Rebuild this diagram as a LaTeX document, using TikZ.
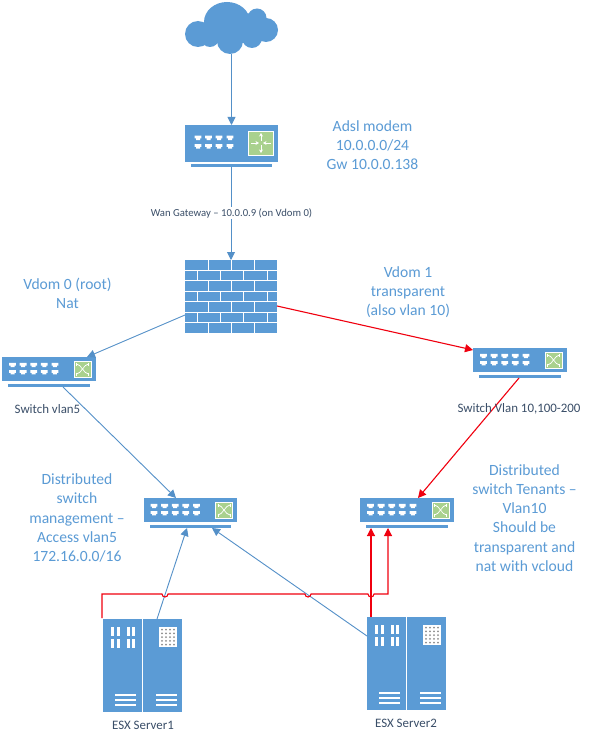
\documentclass[tikz,border=0pt]{standalone}
\usepackage{fontspec}
\setmainfont{Carlito}
\usetikzlibrary{arrows.meta}
\definecolor{bl}{HTML}{5B9BD5}
\definecolor{blline}{HTML}{5490C8}
\definecolor{captc}{HTML}{3A4E68}
\definecolor{rd}{HTML}{F0000F}
\definecolor{gr}{HTML}{A9D18E}
\tikzset{
  devbody/.style={fill=bl,draw=none,inner sep=0pt,outer sep=0pt},
  link/.style={draw=blline,line width=0.9pt,-{Triangle[length=8pt,width=8pt]}},
  redlink/.style={draw=rd,line width=1.1pt,-{Triangle[length=8pt,width=8pt]}},
  note/.style={text=bl,align=center,font=\fontsize{15.6}{19.2}\selectfont,inner sep=0pt},
  capt/.style={text=captc,font=\fontsize{12.9}{13}\selectfont,inner sep=0pt},
  whiteline/.style={draw=white,line width=1pt},
  icon/.style={white,line width=0.9pt,-{Stealth[length=3.5pt,width=4pt]}}
}
\newcommand\portpair[2]{%
  \fill[white] (#1-3.4,#2-2.4) -- (#1+3.4,#2-2.4) -- (#1+3.4,#2+0.4) -- (#1+2,#2+0.4) -- (#1+2,#2+2) -- (#1-2,#2+2) -- (#1-2,#2+0.4) -- (#1-3.4,#2+0.4) -- cycle;}
\newcommand\switchdev[3]{%
  \node[devbody,minimum width=93.5pt,minimum height=24pt,anchor=north west] (#1) at (#2,#3) {};
  \fill[bl] (#2+6,#3+27) rectangle (#2+87.5,#3+30);
  \foreach \cx in {0,1,2,3,4} {\pgfmathsetmacro\px{#2+10.5+10.6*\cx}\portpair{\px}{#3+8.2}\portpair{\px}{#3+15.4}}
  \fill[gr,draw=white,line width=0.8pt] (#2+72,#3+4) rectangle (#2+89,#3+20);
  \draw[white,line width=0.7pt] (#2+74.5,#3+7) .. controls (#2+79,#3+7) and (#2+82,#3+17) .. (#2+86.5,#3+17);
  \draw[white,line width=0.7pt] (#2+74.5,#3+17) .. controls (#2+79,#3+17) and (#2+82,#3+7) .. (#2+86.5,#3+7);
  \draw[white,line width=0.7pt] (#2+74.5,#3+5.5) -- (#2+74.5,#3+8.5) (#2+74.5,#3+15.5) -- (#2+74.5,#3+18.5) (#2+86.5,#3+5.5) -- (#2+86.5,#3+8.5) (#2+86.5,#3+15.5) -- (#2+86.5,#3+18.5);
}
\newcommand\serverdev[3]{%
  \node[devbody,minimum width=79pt,minimum height=93pt,anchor=north west] (#1) at (#2,#3) {};
  \draw[whiteline] (#2+39.5,#3) -- (#2+39.5,#3+93);
  \foreach \bx in {8,13.5,23.5,29} {
    \fill[white] (#2+\bx,#3+8) rectangle (#2+\bx+3,#3+17);
    \fill[white] (#2+\bx,#3+20) rectangle (#2+\bx+3,#3+29);
  }
  \foreach \by in {76,81,86} {
    \fill[white] (#2+12,#3+\by-0.7) rectangle (#2+33,#3+\by+0.7);
    \fill[white] (#2+53,#3+\by-0.7) rectangle (#2+74,#3+\by+0.7);
  }
  \fill[white] (#2+56,#3+8) rectangle (#2+74,#3+28);
  \foreach \dx in {0,1,2,3} \foreach \dy in {0,1,2,3,4}
    \fill[black!45] (#2+59+\dx*4,#3+10.5+\dy*3.8) circle (1);
}
\begin{document}
\begin{tikzpicture}[x=1pt,y=-1pt]
\useasboundingbox (0,0) rectangle (591,741);
\fill[white] (0,0) rectangle (591,741);

% cloud
\node[inner sep=0pt,minimum width=93pt,minimum height=52pt] (cloud) at (231.5,28) {};
\fill[bl] (198,34) circle (13) (210,38) circle (9) (230,41) circle (13)
  (227,22) ellipse (23 and 20) (257,18) circle (9.5) (266,30) circle (12) (252,38) circle (10)
  (215,28) circle (12) (245,28) circle (15);

% router
\node[devbody,minimum width=93pt,minimum height=37pt,anchor=north west] (router) at (185,125) {};
\fill[bl] (191,164) rectangle (272,167);
\coordinate (routerbase) at (231,167);
\foreach \px in {198,208.5,219,230} {\portpair{\px}{138}\portpair{\px}{146.5}}
\fill[gr,draw=white,line width=0.8pt] (248.5,131.5) rectangle (273,155);
\draw[icon] (261,141) -- (261,133);
\draw[icon] (261,145) -- (261,153);
\draw[icon] (251,143) -- (259,143);
\draw[icon] (271,143) -- (263,143);

% firewall
\node[devbody,minimum width=92pt,minimum height=73pt,anchor=north west] (fw) at (185,260) {};
\foreach \i in {1,...,6} {\pgfmathsetmacro\yy{260+\i*10.43}\draw[whiteline] (185,\yy) -- (277,\yy);}
\foreach \i in {0,2,4,6} {\pgfmathsetmacro\ya{260+\i*10.43}\pgfmathsetmacro\yb{\ya+10.43}
  \draw[whiteline] (208,\ya) -- (208,\yb) (231,\ya) -- (231,\yb) (254,\ya) -- (254,\yb);}
\foreach \i in {1,3,5} {\pgfmathsetmacro\ya{260+\i*10.43}\pgfmathsetmacro\yb{\ya+10.43}
  \draw[whiteline] (197,\ya) -- (197,\yb) (220,\ya) -- (220,\yb) (243,\ya) -- (243,\yb) (267,\ya) -- (267,\yb);}

% switches
\switchdev{swl}{2}{357}
\switchdev{swr}{473}{348}
\switchdev{dsm}{143.5}{498}
\switchdev{dst}{360}{498}

% servers
\serverdev{srva}{103}{619}
\serverdev{srvb}{367}{617}

% anchors for connector ends
\coordinate (fwsw) at (185,315);
\coordinate (swlin) at (87,357);
\coordinate (fwse) at (277,306);
\coordinate (swrin) at (473,350);
\coordinate (swlout) at (63,387);
\coordinate (dsmin) at (176,498);
\coordinate (swrout) at (519,378);
\coordinate (dstin) at (418,498);
\coordinate (srvaout) at (157,619);
\coordinate (dsmina) at (187,528);
\coordinate (srvbout) at (367,636);
\coordinate (dsminb) at (212,528);
\coordinate (srvared) at (102,618);
\coordinate (dstina) at (371,528);
\coordinate (dstinb) at (388,528);
\coordinate (srvbred) at (371,617);

% blue connectors
\draw[link] (cloud.south) -- (router.north);
\draw[link] (routerbase) -- (fw.north);
\draw[link] (fwsw) -- (swlin);
\draw[link] (swlout) -- (dsmin);
\draw[link] (srvaout) -- (dsmina);
\draw[link] (srvbout) -- (dsminb);
% red connectors
\draw[redlink] (fwse) -- (swrin);
\draw[redlink] (swrout) -- (dstin);
\draw[redlink] (srvbred) -- (dstina);
\draw[redlink] (srvared) |- (162,594) arc[start angle=180,end angle=0,radius=3]
  -- (305,594) arc[start angle=180,end angle=0,radius=3]
  -- (368,594) arc[start angle=180,end angle=0,radius=3]
  -| (dstinb);

% connector label
\node[capt,fill=white,inner xsep=1pt,inner ysep=1pt,font=\fontsize{10.7}{13}\selectfont] (wan) at (231.5,213) {Wan Gateway – 10.0.0.9 (on Vdom 0)};

% notes
\node[note] (n1) at (372.5,145) {Adsl modem\\10.0.0.0/24\\Gw 10.0.0.138};
\node[note] (n2) at (67.5,293) {Vdom 0 (root)\\Nat};
\node[note] (n3) at (408,292) {Vdom 1\\transparent\\(also vlan 10)};
\node[note] (n4) at (77,518) {Distributed\\switch\\management –\\Access vlan5\\172.16.0.0/16};
\node[note] (n5) at (524.5,518) {Distributed\\switch Tenants –\\Vlan10\\Should be\\transparent and\\nat with vcloud};

% captions
\node[capt] (c1) at (47.5,409) {Switch vlan5};
\node[capt] (c2) at (519,409) {Switch Vlan 10,100-200};
\node[capt] (c3) at (143,725) {ESX Server1};
\node[capt] (c4) at (406,723) {ESX Server2};
\end{tikzpicture}
\end{document}
